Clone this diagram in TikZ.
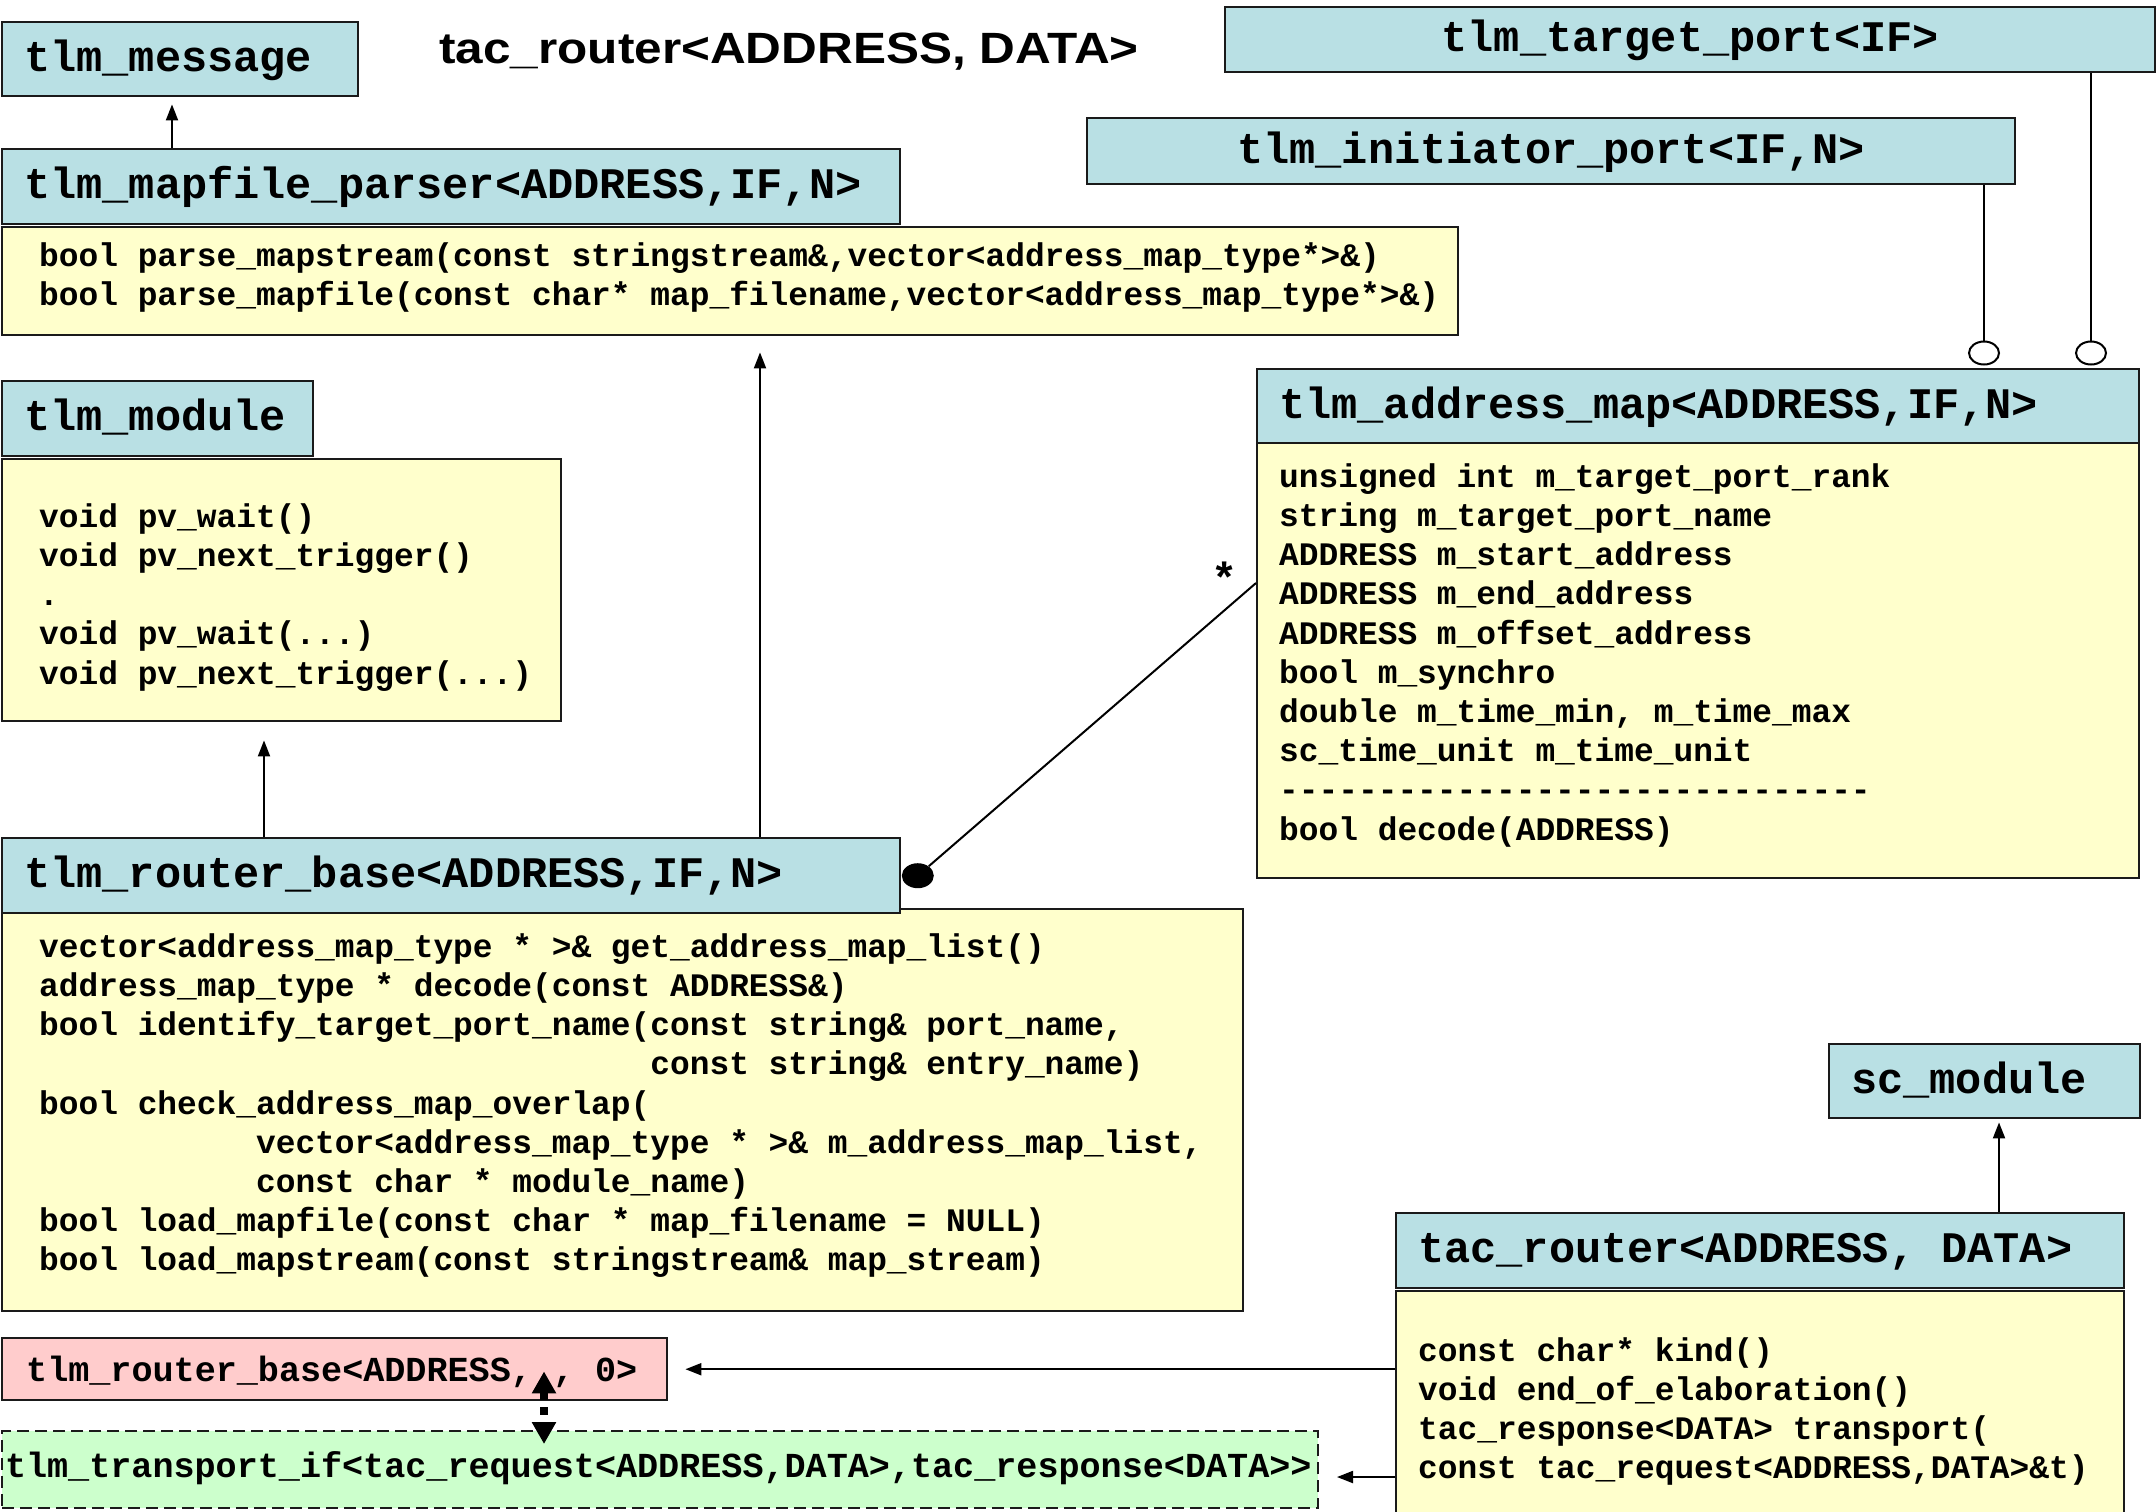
\documentclass[tikz,border=0pt]{standalone}
\usepackage{fontspec}
\setmonofont{Liberation Mono}
\newfontfamily\titlefont{Liberation Sans}[FakeStretch=1.13]
\usepackage{xcolor}
\usetikzlibrary{arrows.meta,shapes.geometric}

\definecolor{classblue}{HTML}{B9E0E4}
\definecolor{memberyellow}{HTML}{FFFFCC}
\definecolor{basepink}{HTML}{FFCCCC}
\definecolor{ifacegreen}{HTML}{CCFFCC}
\definecolor{edge}{HTML}{1A1A1A}

% fixed-pitch spaces (align=left would make them narrow)
\newcommand\fixspace{\spaceskip=0.6em\relax\xspaceskip=0.6em\relax}
\newcommand\classfont{\ttfamily\bfseries\fontsize{21.8pt}{26pt}\selectfont}
\newcommand\memberfont{\ttfamily\bfseries\fontsize{16.43pt}{19.6pt}\selectfont}
\newcommand\ifacefont{\ttfamily\bfseries\fontsize{17.56pt}{21pt}\selectfont}
% one member per row, indented by #1
\newcommand\members[2]{\begin{tabular}[t]{@{\hspace{#1}}l@{}}#2\end{tabular}}

\tikzset{
  classhead/.style={draw=edge, line width=1.2pt, fill=classblue, anchor=north west,
    inner xsep=11pt, inner ysep=0pt, text height=16pt, text depth=4pt,
    align=left, font=\classfont, execute at begin node=\fixspace},
  classbody/.style={draw=edge, line width=1.2pt, fill=memberyellow, anchor=north west,
    inner sep=0pt, align=left, font=\memberfont, execute at begin node=\fixspace},
  port/.style={ellipse, draw=black, line width=1pt, fill=white,
    minimum width=15pt, minimum height=11.5pt, inner sep=0pt},
  link/.style={draw=black, line width=1pt},
  inherit/.style={link, -{Triangle[length=8pt,width=6pt]}},
  realize/.style={draw=black, line width=4pt, dash pattern=on 4pt off 3.5pt,
    {Triangle[length=11pt,width=11.5pt]}-{Triangle[length=11pt,width=11.5pt]}},
}

\begin{document}\frenchspacing
\begin{tikzpicture}[x=0.5pt,y=-0.5pt]
  \clip (0,0) rectangle (2156,1511);

  \node[classhead, text width=156pt, minimum height=37pt] (msg) at (1,21) {tlm\_message};
  \node[font=\titlefont\bfseries\fontsize{21.9pt}{26pt}\selectfont, anchor=base, inner sep=0pt] (title) at (789,63) {tac\_router<ADDRESS, DATA>};

  \node[classhead, align=center, text width=443pt, minimum height=32.5pt] (target) at (1224,6) {tlm\_target\_port<IF>};
  \node[classhead, align=center, text width=442pt, minimum height=33pt] (init) at (1086,117) {tlm\_initiator\_port<IF,N>};

  % map file parser
  \node[classhead, text width=427pt, minimum height=37.5pt] (parserHead) at (1,148) {tlm\_mapfile\_parser<ADDRESS,IF,N>};
  \node[classbody, text width=728pt, text height=19.5pt, text depth=34.5pt] (parserBody) at (1,226) {\members{18.5pt}{%
    bool parse\_mapstream(const stringstream\&,vector<address\_map\_type*>\&)\\
    bool parse\_mapfile(const char* map\_filename,vector<address\_map\_type*>\&)}};

  % tlm module
  \node[classhead, text width=133.5pt, minimum height=37.5pt] (moduleHead) at (1,380) {tlm\_module};
  \node[classbody, text width=279.5pt, text height=34pt, text depth=97pt] (moduleBody) at (1,458) {\members{18.5pt}{%
    void pv\_wait()\\
    void pv\_next\_trigger()\\
    .\\
    void pv\_wait(...)\\
    void pv\_next\_trigger(...)}};

  % address map
  \node[classhead, text width=419pt, minimum height=37pt] (mapHead) at (1256,368) {tlm\_address\_map<ADDRESS,IF,N>};
  \node[classbody, text width=441pt, text height=22pt, text depth=195.5pt] (mapBody) at (1256,442) {\members{11pt}{%
    unsigned int m\_target\_port\_rank\\
    string m\_target\_port\_name\\
    ADDRESS m\_start\_address\\
    ADDRESS m\_end\_address\\
    ADDRESS m\_offset\_address\\
    bool m\_synchro\\
    double m\_time\_min, m\_time\_max\\
    sc\_time\_unit m\_time\_unit\\
    ------------------------------\\
    bool decode(ADDRESS)}};

  \node[port] (initPlug) at (1984,353) {};
  \node[port] (targetPlug) at (2091,353) {};

  % router base
  \node[classbody, text width=620.5pt, text height=24pt, text depth=177pt] (routerBody) at (1,908) {\members{18.5pt}{%
    vector<address\_map\_type * >\& get\_address\_map\_list()\\
    address\_map\_type * decode(const ADDRESS\&)\\
    bool identify\_target\_port\_name(const string\& port\_name,\\
    \hspace{18.6em}const string\& entry\_name)\\
    bool check\_address\_map\_overlap(\\
    \hspace{6.6em}vector<address\_map\_type * >\& m\_address\_map\_list,\\
    \hspace{6.6em}const char * module\_name)\\
    bool load\_mapfile(const char * map\_filename = NULL)\\
    bool load\_mapstream(const stringstream\& map\_stream)}};
  \node[classhead, text width=427pt, minimum height=37.5pt] (routerHead) at (1,837) {tlm\_router\_base<ADDRESS,IF,N>};
  \node[ellipse, fill=black, minimum width=16pt, minimum height=12.5pt, inner sep=0pt, anchor=west] (agg) at (routerHead.east) {};
  \node[font=\classfont, inner sep=0pt] (mult) at (1225,578) {*};

  % tac router
  \node[classhead, text width=133.5pt, minimum height=37pt] (scModule) at (1828,1043) {sc\_module};
  \node[classhead, text width=342pt, minimum height=37.5pt] (tacHead) at (1395,1212) {tac\_router<ADDRESS, DATA>};
  \node[classbody, text width=364pt, text height=35pt, text depth=115pt] (tacBody) at (1395,1290) {\members{11pt}{%
    const char* kind()\\
    void end\_of\_elaboration()\\
    tac\_response<DATA> transport(\\
    const tac\_request<ADDRESS,DATA>\&t)}};

  \node[classhead, fill=basepink, font=\ifacefont, inner xsep=12pt, text width=308.5pt, minimum height=31pt] (base) at (1,1337) {tlm\_router\_base<ADDRESS, , 0>};
  \node[classhead, fill=ifacegreen, line width=1pt, dash pattern=on 6pt off 3pt, font=\ifacefont, inner xsep=1.5pt,
    text width=655pt, minimum height=38.5pt, text height=14pt, text depth=6pt] (iface) at (1,1430) {tlm\_transport\_if<tac\_request<ADDRESS,DATA>,tac\_response<DATA>>};

  % connectors
  \draw[inherit, shorten >=3.5pt] ([xshift=85.5pt]parserHead.north west) -- ([xshift=85.5pt]parserHead.north west |- msg.south);
  \draw[inherit, shorten >=9pt] ([xshift=131.5pt]routerHead.north west) -- ([xshift=131.5pt]routerHead.north west |- moduleBody.south);
  \draw[inherit, shorten >=8pt] ([xshift=379.5pt]routerHead.north west) -- ([xshift=379.5pt]routerHead.north west |- parserBody.south);
  \draw[inherit, shorten >=1.5pt] ([xshift=302pt]tacHead.north west) -- ([xshift=302pt]tacHead.north west |- scModule.south);
  \draw[link] (init.south -| initPlug) -- (initPlug.north);
  \draw[link] (target.south -| targetPlug) -- (targetPlug.north);
  \draw[link] (agg) -- ([yshift=-70.5pt]mapBody.north west);
  \draw[inherit, shorten >=8.5pt] (tacBody.west |- base.east) -- (base.east);
  \draw[inherit, shorten >=9pt] ([yshift=-3.75pt]iface.east -| tacBody.west) -- ([yshift=-3.75pt]iface.east);
  \draw[realize, shorten <=-15pt, shorten >=-7pt] ([xshift=271.5pt]base.south west) -- ([xshift=271.5pt]base.south west |- iface.north);
\end{tikzpicture}
\end{document}
